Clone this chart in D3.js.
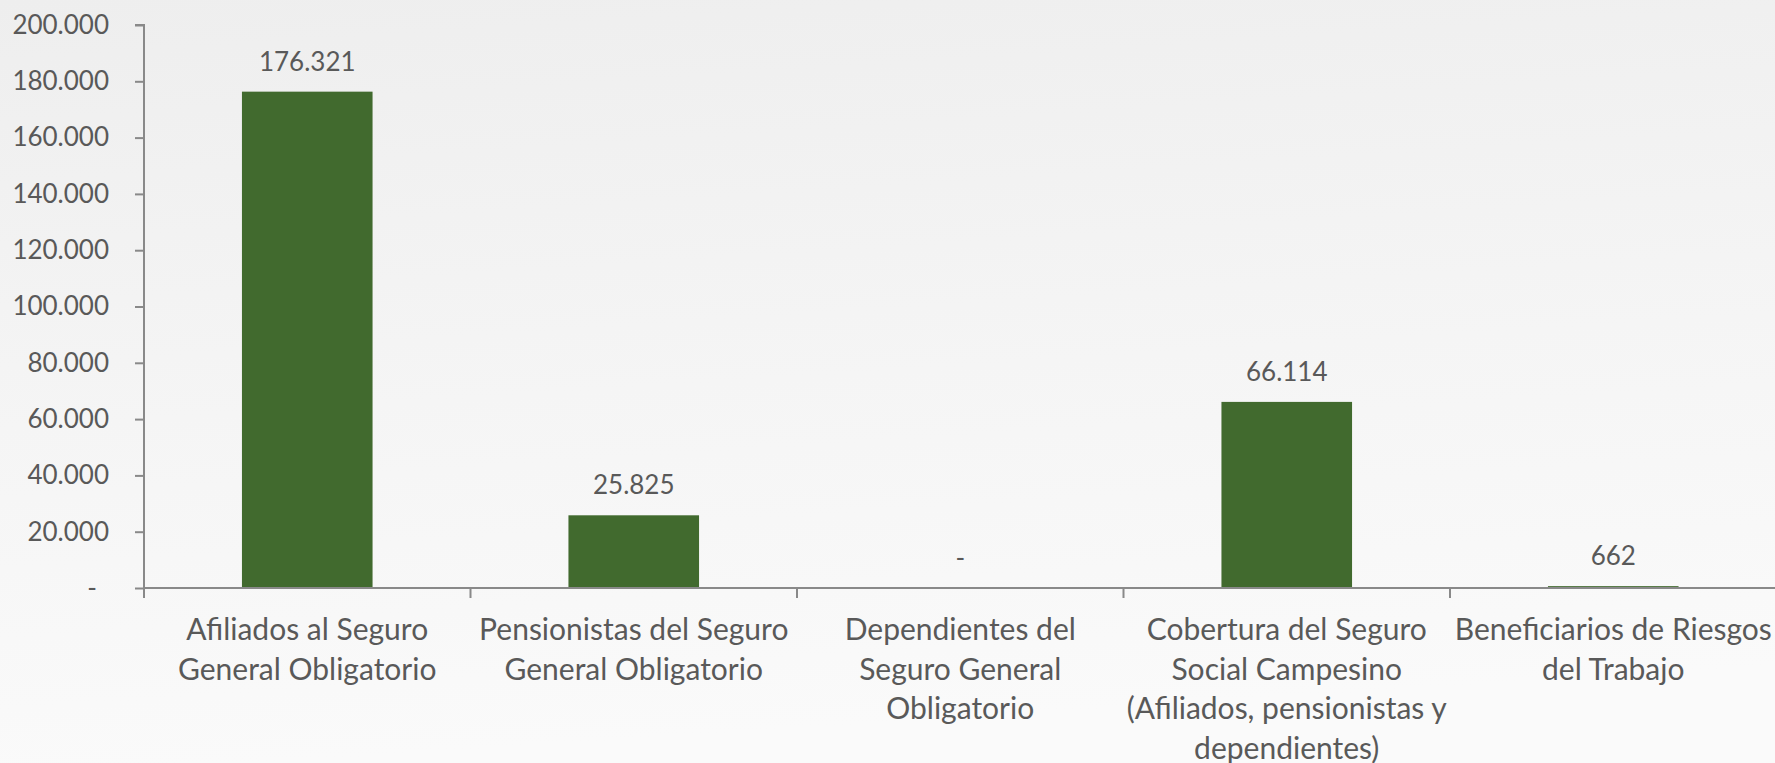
<!DOCTYPE html>
<html>

<head>
    <meta charset='utf-8'>
    <title>Cobertura</title>
    <script type='text/javascript' src='https://cdn.jsdelivr.net/npm/d3@7'></script>
    <style>
        body { margin: 0; overflow: hidden; }
        text { font-family: Lato, 'Open Sans', sans-serif; fill: #595959; }
    </style>
</head>

<body>
    <svg width='1775' height='763'></svg>
    <script type='text/javascript'>

        // categorias (cada una partida en lineas como en el original)
        const categories = [
            ['Afiliados al Seguro', 'General Obligatorio'],
            ['Pensionistas del Seguro', 'General Obligatorio'],
            ['Dependientes del', 'Seguro General', 'Obligatorio'],
            ['Cobertura del Seguro', 'Social Campesino', '(Afiliados, pensionistas y', 'dependientes)'],
            ['Beneficiarios de Riesgos', 'del Trabajo']
        ]
        const values = [176321, 25825, 0, 66114, 662]
        const yTicks = [0, 20000, 40000, 60000, 80000, 100000, 120000, 140000, 160000, 180000, 200000]

        const svg = d3.select('svg')
        const W = 1775, H = 763
        const margin = { left: 144, right: -1.5, top: 25, bottom: 175 }

        // fondo gris claro
        const defs = svg.append('defs')
        const grad = defs.append('linearGradient').attr('id', 'bg')
            .attr('x1', 0).attr('y1', 0).attr('x2', 0.15).attr('y2', 1)
        grad.append('stop').attr('offset', '0%').attr('stop-color', '#eeeeee')
        grad.append('stop').attr('offset', '55%').attr('stop-color', '#f5f5f5')
        grad.append('stop').attr('offset', '100%').attr('stop-color', '#fafafa')
        svg.append('rect').attr('width', W).attr('height', H).attr('fill', 'url(#bg)')

        const idx = d3.range(values.length)
        const fmt = v => v === 0 ? '-' : d3.format(',')(v).replace(/,/g, '.')

        const x = d3.scaleBand()
            .domain(idx)
            .range([margin.left, W - margin.right])
            .paddingInner(0.6).paddingOuter(0.3)

        const xAxisScale = d3.scaleBand().domain(idx).range([margin.left, W - margin.right])

        const y = d3.scaleLinear()
            .domain([0, 200000])
            .range([H - margin.bottom, margin.top])

        // eje y
        const yAxis = svg.append('g')
            .attr('transform', `translate(${margin.left},0)`)
            .call(d3.axisLeft(y).tickValues(yTicks).tickSize(9).tickPadding(26).tickFormat(fmt))
        yAxis.selectAll('path, line').attr('stroke', '#898989').attr('stroke-width', 2)
        yAxis.select('.domain').attr('d', `M-9,${y(200000)}H0V${y(0)}`)
        yAxis.selectAll('text').style('font-size', '26px').attr('fill', '#595959')
            .attr('dx', d => d === 0 ? -12 : 0)

        // barras
        svg.append('g').selectAll('rect')
            .data(values)
            .enter()
            .append('rect')
            .attr('x', (d, i) => x(i))
            .attr('width', x.bandwidth())
            .attr('y', d => y(d))
            .attr('height', d => y(0) - y(d))
            .attr('fill', '#416a2e')

        // eje x
        const xAxis = svg.append('g').attr('transform', `translate(0,${y(0)})`)
        xAxis.append('line')
            .attr('x1', margin.left).attr('x2', W)
            .attr('stroke', '#898989').attr('stroke-width', 2)
        xAxis.selectAll('line.tick')
            .data(idx)
            .enter()
            .append('line').attr('class', 'tick')
            .attr('x1', d => xAxisScale(d)).attr('x2', d => xAxisScale(d))
            .attr('y1', 0).attr('y2', 10)
            .attr('stroke', '#898989').attr('stroke-width', 2)

        const catLabels = xAxis.selectAll('text.cat')
            .data(categories)
            .enter()
            .append('text').attr('class', 'cat')
            .attr('text-anchor', 'middle')
            .style('font-size', '30px')
        catLabels.selectAll('tspan')
            .data((d, i) => d.map(t => ({ t, i })))
            .enter()
            .append('tspan')
            .attr('x', d => xAxisScale(d.i) + xAxisScale.bandwidth() / 2)
            .attr('y', (d, j) => 52 + j * 39.5)
            .text(d => d.t)

        // etiquetas de valor
        svg.append('g').selectAll('text')
            .data(values)
            .enter()
            .append('text')
            .attr('text-anchor', 'middle')
            .style('font-size', '26px')
            .attr('x', (d, i) => x(i) + x.bandwidth() / 2)
            .attr('y', d => y(d) - 21)
            .text(fmt)
    </script>
</body>

</html>
